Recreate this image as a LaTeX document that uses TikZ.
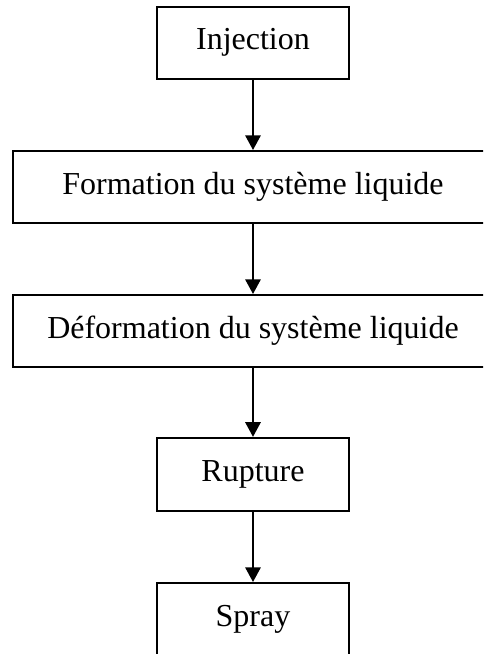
\documentclass[tikz,border=0pt]{standalone}
\usepackage{fontspec}
\setmainfont{Liberation Serif}
\usepackage{tikz}
\usetikzlibrary{arrows.meta}

\begin{document}
\begin{tikzpicture}[x=0.75pt,y=-0.75pt,
  etape/.style={draw,line width=1.5pt,minimum height=54pt,inner sep=0pt,
    font=\fontsize{24}{28}\selectfont},
  fleche/.style={line width=1.5pt,-{Triangle[length=11pt,width=11.5pt]}}]
\useasboundingbox (0,0) rectangle (483,654);
\clip (0,0) rectangle (483,654);
\node[etape,minimum width=144pt] (inj) at (253,42.5) {Injection};
\node[etape,minimum width=360pt] (form) at (253,187) {Formation du syst\`eme liquide};
\node[etape,minimum width=360pt] (def) at (253,331) {D\'eformation du syst\`eme liquide};
\node[etape,minimum width=144pt,minimum height=55pt] (rup) at (253,474.5) {Rupture};
\node[etape,minimum width=144pt] (spray) at (253,619) {Spray};
\draw[fleche] (inj) -- (form);
\draw[fleche] (form) -- (def);
\draw[fleche] (def) -- (rup);
\draw[fleche] (rup) -- (spray);
\end{tikzpicture}
\end{document}
